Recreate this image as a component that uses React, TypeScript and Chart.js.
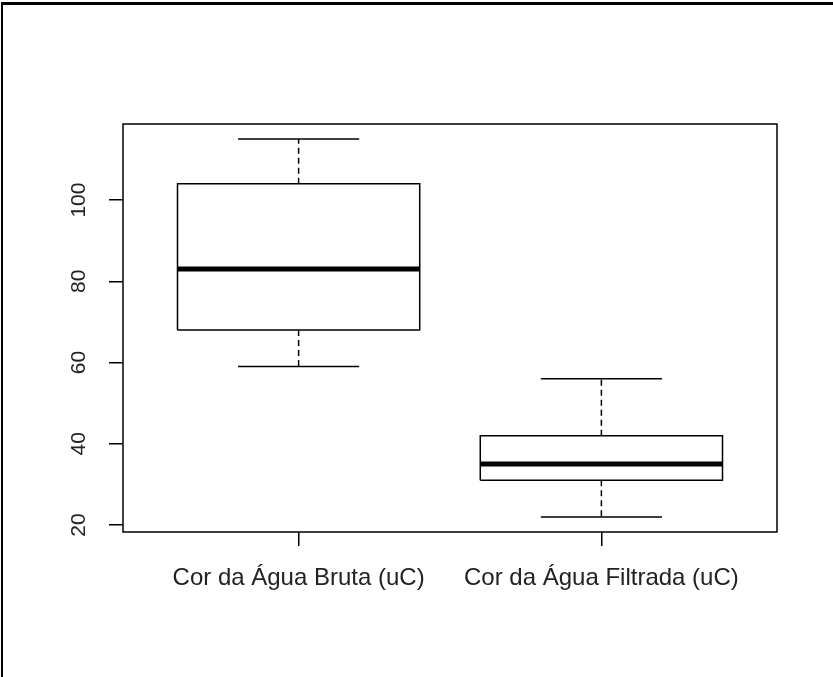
import React, { useEffect, useRef } from "react";
import { Chart, registerables } from "chart.js";

Chart.register(...registerables);

const categories = ["Cor da Água Bruta (uC)", "Cor da Água Filtrada (uC)"];
const whiskerMin = [59, 22];
const q1 = [68, 31];
const median = [83, 35];
const q3 = [104, 42];
const whiskerMax = [115, 56];
const yTicks = [20, 40, 60, 80, 100];
const xTicks = [1, 2];

const BOX_HALF = 0.4;
const CAP_HALF = 0.2;

function buildDatasets() {
  const boxPts: any[] = [];
  const medPts: any[] = [];
  const whiskPts: any[] = [];
  const capPts: any[] = [];
  categories.forEach((_, i) => {
    const c = i + 1;
    const l = c - BOX_HALF;
    const r = c + BOX_HALF;
    boxPts.push(
      { x: l, y: q1[i] },
      { x: r, y: q1[i] },
      { x: r, y: q3[i] },
      { x: l, y: q3[i] },
      { x: l, y: q1[i] },
      { x: c, y: null }
    );
    medPts.push({ x: l, y: median[i] }, { x: r, y: median[i] }, { x: c, y: null });
    whiskPts.push(
      { x: c, y: q3[i] },
      { x: c, y: whiskerMax[i] },
      { x: c, y: null },
      { x: c, y: q1[i] },
      { x: c, y: whiskerMin[i] },
      { x: c, y: null }
    );
    capPts.push(
      { x: c - CAP_HALF, y: whiskerMax[i] },
      { x: c + CAP_HALF, y: whiskerMax[i] },
      { x: c, y: null },
      { x: c - CAP_HALF, y: whiskerMin[i] },
      { x: c + CAP_HALF, y: whiskerMin[i] },
      { x: c, y: null }
    );
  });
  const base = {
    type: "line" as const,
    borderColor: "#000",
    pointRadius: 0,
    fill: false,
    spanGaps: false,
    tension: 0,
  };
  return [
    { ...base, label: "whiskers", data: whiskPts, borderWidth: 1.5, borderDash: [6, 4] },
    { ...base, label: "caps", data: capPts, borderWidth: 1.5 },
    { ...base, label: "box", data: boxPts, borderWidth: 1.5, borderJoinStyle: "miter" as const },
    { ...base, label: "median", data: medPts, borderWidth: 5, borderCapStyle: "butt" as const },
  ];
}

const framePlugin = {
  id: "frame",
  beforeDraw(chart: any) {
    const { ctx, chartArea } = chart;
    ctx.save();
    ctx.fillStyle = "#fff";
    ctx.fillRect(0, 0, chart.width, chart.height);
    ctx.fillStyle = "#000";
    ctx.fillRect(1, 2, 2, chart.height);
    ctx.fillRect(1, 2, chart.width, 3);
    ctx.restore();
  },
  afterDatasetsDraw(chart: any) {
    const { ctx, chartArea } = chart;
    ctx.save();
    ctx.strokeStyle = "#000";
    ctx.lineWidth = 1.5;
    ctx.strokeRect(chartArea.left, chartArea.top, chartArea.right - chartArea.left, chartArea.bottom - chartArea.top);
    ctx.restore();
  },
};

export default function App() {
  const ref = useRef<HTMLCanvasElement>(null);
  useEffect(() => {
    document.body.style.margin = "0";
    const chart = new Chart(ref.current!, {
      type: "line",
      data: { datasets: buildDatasets() as any },
      options: {
        responsive: false,
        animation: false,
        layout: { padding: { top: 124, right: 56, left: 0, bottom: 0 } },
        plugins: { legend: { display: false }, tooltip: { enabled: false } },
        scales: {
          x: {
            type: "linear",
            min: 0.42,
            max: 2.58,
            afterBuildTicks: (s: any) => {
              s.ticks = xTicks.map((v) => ({ value: v }));
            },
            afterFit: (s: any) => {
              s.height = 145;
            },
            border: { display: false },
            grid: { drawOnChartArea: false, drawTicks: true, tickLength: 14, tickColor: "#000", lineWidth: 1.5 },
            ticks: {
              padding: 18,
              maxRotation: 0,
              minRotation: 0,
              autoSkip: false,
              color: "#222",
              font: { family: "'Liberation Sans', Arial, sans-serif", size: 24 },
              callback: (v: any) => categories[Math.round(v) - 1] ?? "",
            },
          },
          y: {
            type: "linear",
            min: 18.28,
            max: 118.72,
            afterBuildTicks: (s: any) => {
              s.ticks = yTicks.map((v) => ({ value: v }));
            },
            afterFit: (s: any) => {
              s.width = 123;
            },
            border: { display: false },
            grid: { drawOnChartArea: false, drawTicks: true, tickLength: 14, tickColor: "#000", lineWidth: 1.5 },
            ticks: {
              padding: 12,
              minRotation: 90,
              maxRotation: 90,
              crossAlign: "center",
              color: "#222",
              font: { family: "'Liberation Sans', Arial, sans-serif", size: 21 },
            },
          },
        },
      },
      plugins: [framePlugin],
    });
    return () => chart.destroy();
  }, []);
  return <canvas ref={ref} width={833} height={677} style={{ display: "block" }} />;
}
